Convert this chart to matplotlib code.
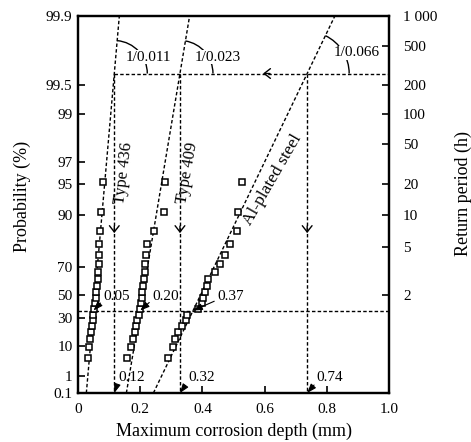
import numpy as np
import matplotlib.pyplot as plt
import matplotlib.patches as mpatches
import matplotlib.transforms as mtransforms

plt.rcParams['font.family'] = ['Liberation Serif', 'DejaVu Serif']

# plotting positions (%) for the 20 ranked maxima
prob = [4.8, 9.5, 14.3, 19.0, 23.8, 28.6, 33.3, 38.1, 42.9, 47.6,
        52.4, 57.1, 61.9, 66.7, 71.4, 76.2, 81.0, 85.7, 90.5, 95.2]
depth_436 = [0.031, 0.035, 0.039, 0.042, 0.045, 0.047, 0.048, 0.053, 0.055, 0.058,
             0.059, 0.061, 0.063, 0.064, 0.066, 0.067, 0.069, 0.072, 0.074, 0.079]
depth_409 = [0.159, 0.170, 0.177, 0.182, 0.186, 0.191, 0.196, 0.199, 0.203, 0.206,
             0.207, 0.209, 0.212, 0.214, 0.215, 0.219, 0.222, 0.244, 0.275, 0.280]
depth_al = [0.290, 0.306, 0.313, 0.323, 0.333, 0.347, 0.352, 0.387, 0.398, 0.403,
            0.408, 0.414, 0.419, 0.441, 0.457, 0.473, 0.489, 0.510, 0.516, 0.526]

# gumbel fits: mode lam, scale alpha
lam = [0.05, 0.20, 0.37]
alpha = [0.012, 0.023, 0.066]
slope_labels = ['1/0.011', '1/0.023', '1/0.066']
mode_labels = ['0.05', '0.20', '0.37']
max_labels = ['0.12', '0.32', '0.74']
design_T = 260
p_mode = 100 / np.e

left_ticks = [0.1, 1, 10, 30, 50, 70, 90, 95, 97, 99, 99.5, 99.9]
left_labels = ['0.1', '1', '10', '30', '50', '70', '90', '95', '97', '99', '99.5', '99.9']
ret_ticks = [2, 5, 10, 20, 50, 100, 200, 500, 1000]
ret_labels = ['2', '5', '10', '20', '50', '100', '200', '500', '1 000']


def fwd(p):
    p = np.clip(np.asarray(p, dtype=float), 1e-9, 100 - 1e-9)
    return -np.log(-np.log(p / 100))


def inv(y):
    return 100 * np.exp(-np.exp(-np.asarray(y, dtype=float)))


dot = (0, (2.5, 1.6))
fig = plt.figure(figsize=(4.71, 4.42), dpi=100)
ax = fig.add_axes([78 / 471, 1 - 393 / 442, 311 / 471, 377 / 442])
ax.set_xlim(0, 1)
ax.set_yscale('function', functions=(fwd, inv))
ax.set_ylim(0.1, 99.9)

p_h = 100 - 100 / design_T
y_h = fwd(p_h)
p_end = np.array([0.1, 99.9])
x_v = []
for k in range(3):
    ax.plot(lam[k] + alpha[k] * fwd(p_end), p_end, color='black', lw=1.0, ls=dot, zorder=2)
    x_v.append(lam[k] + alpha[k] * y_h)
    ax.plot([x_v[k], x_v[k]], [p_h, 0.1], color='black', lw=1.0, ls=dot, zorder=2)
    ax.annotate('', xy=(x_v[k], 85), xytext=(0, 5), textcoords='offset points',
                arrowprops=dict(arrowstyle='->,head_length=0.45,head_width=0.35', lw=1.0,
                                color='black', shrinkA=0, shrinkB=0))
ax.plot([x_v[0], 1], [p_h, p_h], color='black', lw=1.0, ls=dot, zorder=2)
ax.plot([0, 1], [p_mode, p_mode], color='black', lw=1.0, ls=dot, zorder=2)
ax.annotate('', xy=(0.595, p_h), xytext=(5, 0), textcoords='offset points',
            arrowprops=dict(arrowstyle='->,head_length=0.45,head_width=0.35', lw=1.0,
                            color='black', shrinkA=0, shrinkB=0))

for d in [depth_436, depth_409, depth_al]:
    ax.plot(d, prob, ls='none', marker='s', ms=5, mfc='white', mec='black', mew=1.1, zorder=5)

# slope arcs and labels
radii = [33, 33, 42]
slope_pos = [(0.225, 0.891), (0.450, 0.891), (0.897, 0.902)]
for k in range(3):
    c = ax.transData.transform((x_v[k], p_h))
    p2 = ax.transData.transform((lam[k] + alpha[k] * (y_h + 1), inv(y_h + 1)))
    ang = np.degrees(np.arctan2(p2[1] - c[1], p2[0] - c[0]))
    arc = mpatches.Arc(c, 2 * radii[k], 2 * radii[k], theta1=0, theta2=ang,
                       transform=mtransforms.IdentityTransform(), lw=1.0,
                       color='black', clip_on=False)
    ax.add_patch(arc)
    ax.text(slope_pos[k][0], slope_pos[k][1], slope_labels[k], transform=ax.transAxes,
            ha='center', va='center', fontsize=11, zorder=6,
            bbox=dict(fc='white', ec='none', pad=0.3))

# value annotations
mode_pos = [(0.081, 0.257), (0.238, 0.257), (0.447, 0.257)]
max_pos = [(0.129, 0.040), (0.354, 0.040), (0.768, 0.040)]
arr = dict(arrowstyle='-|>,head_length=0.5,head_width=0.18', lw=0.8, color='black',
           shrinkA=0, shrinkB=0, relpos=(0.0, 0.2))
for k in range(3):
    ax.annotate(mode_labels[k], xy=(lam[k], p_mode), xytext=mode_pos[k],
                textcoords='axes fraction', ha='left', va='center', fontsize=11,
                arrowprops=arr, zorder=6)
    ax.annotate(max_labels[k], xy=(x_v[k], 0.1), xytext=max_pos[k],
                textcoords='axes fraction', ha='left', va='center', fontsize=11,
                arrowprops=arr, zorder=6)

ax.text(0.147, 0.584, 'Type 436', transform=ax.transAxes, rotation=83,
        ha='center', va='center', rotation_mode='anchor', fontsize=12)
ax.text(0.352, 0.584, 'Type 409', transform=ax.transAxes, rotation=80,
        ha='center', va='center', rotation_mode='anchor', fontsize=12)
ax.text(0.627, 0.565, 'Al-plated steel', transform=ax.transAxes, rotation=60,
        ha='center', va='center', rotation_mode='anchor', fontsize=12.5)

ax.set_yticks(left_ticks)
ax.set_yticklabels(left_labels)
ax.yaxis.set_minor_locator(plt.NullLocator())
ax.set_xticks([0, 0.2, 0.4, 0.6, 0.8, 1.0])
ax.set_xticklabels(['0', '0.2', '0.4', '0.6', '0.8', '1.0'])
ax.tick_params(direction='in', length=5, width=1.2, labelsize=11)
ax.tick_params(axis='x', pad=7)
ax.tick_params(axis='y', pad=4)

ax2 = ax.twinx()
ax2.set_yscale('function', functions=(fwd, inv))
ax2.set_ylim(0.1, 99.9)
ax2.set_yticks([100 - 100 / t for t in ret_ticks])
ax2.set_yticklabels(ret_labels)
ax2.yaxis.set_minor_locator(plt.NullLocator())
ax2.tick_params(direction='in', length=5, width=1.2, labelsize=11, pad=10)

for a in [ax, ax2]:
    for s in a.spines.values():
        s.set_linewidth(1.6)

fig.text(22 / 471, 1 - 196 / 442, 'Probability (%)', rotation=90, ha='center', va='center', fontsize=13)
fig.text(463 / 471, 1 - 194 / 442, 'Return period (h)', rotation=90, ha='center', va='center', fontsize=13)
fig.text(234 / 471, 1 - 431 / 442, 'Maximum corrosion depth (mm)', ha='center', va='center', fontsize=13)

fig.savefig('out.png', dpi=100)
